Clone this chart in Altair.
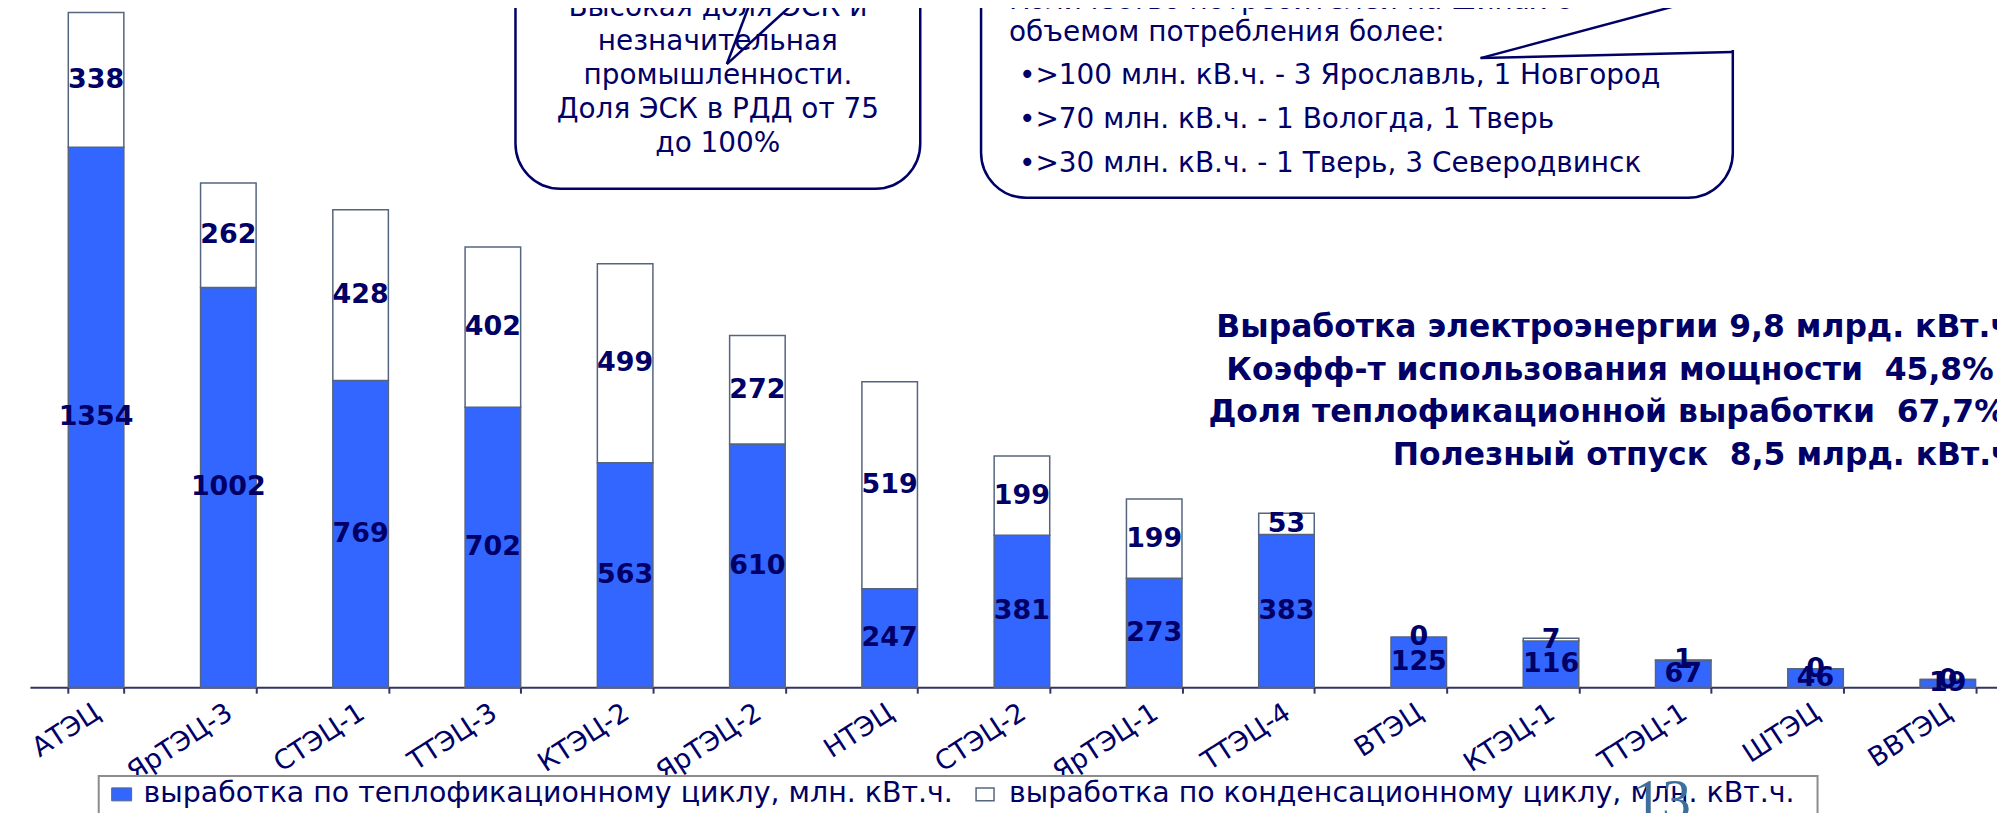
import altair as alt
import pandas as pd

# ---------------- data ----------------
stations = ["АТЭЦ", "ЯрТЭЦ-3", "СТЭЦ-1", "ТТЭЦ-3", "КТЭЦ-2", "ЯрТЭЦ-2", "НТЭЦ",
            "СТЭЦ-2", "ЯрТЭЦ-1", "ТТЭЦ-4", "ВТЭЦ", "КТЭЦ-1", "ТТЭЦ-1", "ШТЭЦ", "ВВТЭЦ"]
heat_cycle = [1354, 1002, 769, 702, 563, 610, 247, 381, 273, 383, 125, 116, 67, 46, 19]
cond_cycle = [338, 262, 428, 402, 499, 272, 519, 199, 199, 53, 0, 7, 1, 0, 0]
series_names = ["выработка по теплофикационному циклу, млн. кВт.ч.",
                "выработка по конденсационному циклу, млн. кВт.ч."]
series_colors = ["#3366FF", "#FFFFFF"]

stats_lines = ["Выработка электроэнергии 9,8 млрд. кВт.ч",
               "Коэфф-т использования мощности \u00a045,8%",
               "Доля теплофикационной выработки \u00a067,7%",
               "Полезный отпуск \u00a08,5 млрд. кВт.ч"]
box1_lines = ["Высокая доля ЭСК и", "незначительная", "промышленности.",
              "Доля ЭСК в РДД от 75", "до 100%"]
box2_lines = ["Количество потребителей на шинах с",
              "объемом потребления более:",
              "•>100 млн. кВ.ч. - 3 Ярославль, 1 Новгород",
              "•>70 млн. кВ.ч. - 1 Вологда, 1 Тверь",
              "•>30 млн. кВ.ч. - 1 Тверь, 3 Северодвинск"]
page_number = "13"

rows = []
for i, s in enumerate(stations):
    for k, vals in enumerate([heat_cycle, cond_cycle]):
        rows.append({"station": s, "series": series_names[k], "order": k, "value": vals[i]})
df = pd.DataFrame(rows)

# ---------------- layout helpers ----------------
NAVY = "#000066"
OX, OY = 30, 8          # page position of plot origin


def px(x):
    return x - OX


def py(y):
    return y - OY


one = pd.DataFrame({"k": [0]})


def text_layer(txt, x, y, size, weight="normal", align="left",
               font="DejaVu Sans", color=NAVY):
    return alt.Chart(one).mark_text(
        text=txt, font=font, fontSize=size, fontWeight=weight, align=align,
        baseline="alphabetic", color=color
    ).encode(x=alt.value(px(x)), y=alt.value(py(y)))


def rect_layer(x1, y1, x2, y2, **kw):
    return alt.Chart(one).mark_rect(**kw).encode(
        x=alt.value(px(x1)), x2=alt.value(px(x2)),
        y=alt.value(py(y1)), y2=alt.value(py(y2)))


def rule_layer(x1, y1, x2, y2, color=NAVY, width=2.5):
    return alt.Chart(one).mark_rule(color=color, strokeWidth=width).encode(
        x=alt.value(px(x1)), x2=alt.value(px(x2)),
        y=alt.value(py(y1)), y2=alt.value(py(y2)))


# ---------------- chart ----------------
xscale = alt.Scale(domain=stations, range=[0, 1990], paddingInner=0.58, paddingOuter=0.29)
yscale = alt.Scale(domain=[0, 1700], nice=False, zero=True)

stacked = alt.Chart(df).transform_stack(
    stack="value", groupby=["station"], as_=["y0", "y1"],
    sort=[alt.SortField("order", order="ascending")]
).transform_calculate(mid="(datum.y0 + datum.y1) / 2")

bars = stacked.mark_bar(stroke="#56657f", strokeWidth=1.5).encode(
    x=alt.X("station:N", scale=xscale, axis=alt.Axis(
        title=None, labelAngle=-33, labelAlign="right", labelBaseline="top",
        labelFont="DejaVu Sans", labelFontSize=27, labelColor=NAVY,
        labelPadding=6, labelOffset=-6, labelOverlap=False,
        domainColor="#333366", domainWidth=2, tickColor="#333366",
        tickWidth=2, tickSize=6, tickBand="extent", grid=False)),
    y=alt.Y("y0:Q", scale=yscale, axis=None),
    y2="y1:Q",
    color=alt.Color("series:N", scale=alt.Scale(domain=series_names, range=series_colors),
                    legend=None),
)

labels = stacked.mark_text(font="DejaVu Sans", fontWeight="bold", fontSize=27,
                           color=NAVY, baseline="middle").encode(
    x=alt.X("station:N", scale=xscale),
    y=alt.Y("mid:Q", scale=yscale),
    text="value:Q",
)

layers = [bars, labels]

# callout box 1
layers.append(rect_layer(517, -60, 923, 188, cornerRadius=45, fill="white",
                         stroke=NAVY, strokeWidth=2.5))
for line, yb in zip(box1_lines, [15, 49, 83, 117, 151]):
    layers.append(text_layer(line, 720, yb, 28, align="center"))
layers.append(rule_layer(756, -8, 729, 63))
layers.append(rule_layer(807, -8, 729, 63))

# callout box 2
layers.append(rect_layer(984, -60, 1738, 197, cornerRadius=45, fill="white",
                         stroke=NAVY, strokeWidth=2.5))
layers.append(rect_layer(1726, -20, 1752, 49, fill="white", stroke=None))
layers.append(rule_layer(1485, 57, 1738, 51))
layers.append(rule_layer(1485, 57, 1728, -8))
for line, xl, yb in zip(box2_lines, [1012, 1012, 1022, 1022, 1022], [8, 40, 83, 127, 171]):
    layers.append(text_layer(line, xl, yb, 28))

# summary text
for line, xl, yb in zip(stats_lines, [1220, 1230, 1212, 1397], [337, 380, 422, 465]):
    layers.append(text_layer(line, xl, yb, 31.5, weight="bold"))

# legend
layers.append(rect_layer(99, 777, 1823, 845, fill="white", stroke="#8c8c8c", strokeWidth=2))
layers.append(rect_layer(112, 789, 132, 802, fill=series_colors[0], stroke="#56657f", strokeWidth=1))
layers.append(text_layer(series_names[0], 144, 803, 28.5))
layers.append(rect_layer(979, 789, 997, 802, fill=series_colors[1], stroke="#56657f", strokeWidth=1.5))
layers.append(text_layer(series_names[1], 1012, 803, 28.5))

# page number
layers.append(text_layer(page_number, 1638, 820, 58, font="Liberation Serif", color="#3d6e9c"))

chart = alt.layer(*layers).properties(
    width=1973, height=680,
    autosize=alt.AutoSizeParams(type="none"),
    padding={"left": 22, "top": 0, "right": 0, "bottom": 140},
    background="white",
).configure_view(stroke=None)

chart.save("out.html", embed_options={"renderer": "svg", "actions": False})
